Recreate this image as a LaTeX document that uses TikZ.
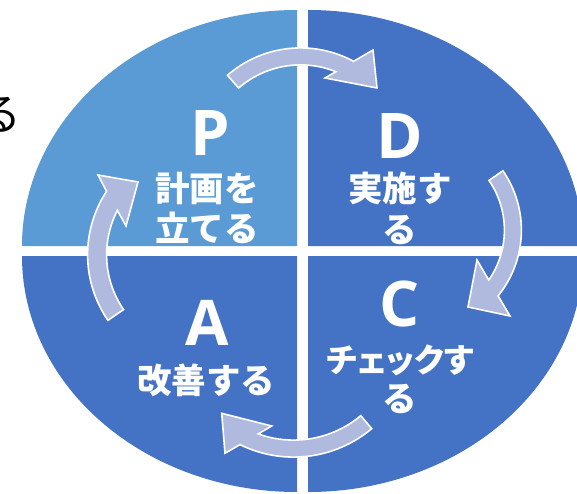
\documentclass[tikz,border=0pt]{standalone}
\usepackage{fontspec}
\usetikzlibrary{calc}
\newfontfamily\jpfont{Noto Sans CJK JP}
\newfontfamily\jpfontp{Noto Sans CJK JP}[RawFeature=+palt]
\newfontfamily\latinbold{Open Sans}
\definecolor{qlight}{HTML}{5B9BD5}
\definecolor{qdark}{HTML}{4472C4}
\definecolor{arrowfill}{RGB}{176,186,222}
\tikzset{
  letter/.style={text=white, font=\latinbold\bfseries\fontsize{63}{63}\selectfont, inner sep=0pt},
  jlabel/.style={text=white, font=\jpfont\bfseries\fontsize{34.5}{34.5}\selectfont, inner sep=0pt},
  jlabelp/.style={text=white, font=\jpfontp\bfseries\fontsize{33}{33}\selectfont, inner sep=0pt},
  cyclearrow/.style={fill=arrowfill, draw=white, line width=1.6pt, line join=miter},
}
\begin{document}
\begin{tikzpicture}[x=1pt,y=1pt]
\useasboundingbox (0,0) rectangle (577,493);
\clip (0,0) rectangle (577,493);
% quarters
\fill[qlight] (297,247) -- (22,247) arc[start angle=180, end angle=90, x radius=275, y radius=236] -- cycle;
\fill[qdark] (308,247) -- (583,247) arc[start angle=0, end angle=90, x radius=275, y radius=236] -- cycle;
\fill[qdark] (297,237) -- (22,237) arc[start angle=180, end angle=270, x radius=275, y radius=236] -- cycle;
\fill[qdark] (308,237) -- (583,237) arc[start angle=0, end angle=-90, x radius=275, y radius=236] -- cycle;
% clipped character at the left
\node[font=\jpfont\fontsize{44}{44}\selectfont, inner sep=0pt, text=black] (ru) at (0,378) {る};
% arrow centres
\coordinate (ct) at (300.6,333.6);
\coordinate (cr) at (416.9,262.9);
\coordinate (cb) at (293.6,157.4);
\coordinate (cl) at (203.6,238.2);
% top arrow P -> D
\path[cyclearrow] ($(ct)+(131:111.5)$) arc[start angle=131, end angle=61.6, radius=111.5]
  -- (373,443) -- (377,405) -- (325,415)
  -- ($(ct)+(68.1:94.5)$) arc[start angle=68.1, end angle=131, radius=94.5] -- cycle;
% right arrow D -> C
\path[cyclearrow] ($(cr)+(34.6:104.5)$) arc[start angle=34.6, end angle=-39, radius=104.5]
  -- (510,177) -- (468,186) -- (477,233)
  -- ($(cr)+(-34.8:87.5)$) arc[start angle=-34.8, end angle=34.6, radius=87.5] -- cycle;
% bottom arrow C -> A
\path[cyclearrow] ($(cb)+(-50:121.5)$) arc[start angle=-50, end angle=-116.2, radius=121.5]
  -- (225,39.7) -- (221.7,79.7) -- (271.7,67)
  -- ($(cb)+(-109.8:104.5)$) arc[start angle=-109.8, end angle=-50, radius=104.5] -- cycle;
% left arrow A -> P
\path[cyclearrow] ($(cl)+(214.4:116)$) arc[start angle=214.4, end angle=146.8, radius=116]
  -- (98,318) -- (138,311) -- (126,267)
  -- ($(cl)+(152.7:97)$) arc[start angle=152.7, end angle=214.4, radius=97] -- cycle;
% labels
\node[letter] (P) at (210,360) {P};
\node[jlabel] (P1) at (207,305) {計画を};
\node[jlabel] (P2) at (207,265) {立てる};
\node[letter] (D) at (400,357) {D};
\node[jlabel] (D1) at (400,305) {実施す};
\node[jlabel] (D2) at (400,263) {る};
\node[letter] (C) at (400,189) {C};
\node[jlabelp] (C1) at (400,133) {チェックす};
\node[jlabel] (C2) at (400,94) {る};
\node[letter] (A) at (207,170) {A};
\node[jlabel] (A1) at (206,113) {改善する};
\end{tikzpicture}
\end{document}
